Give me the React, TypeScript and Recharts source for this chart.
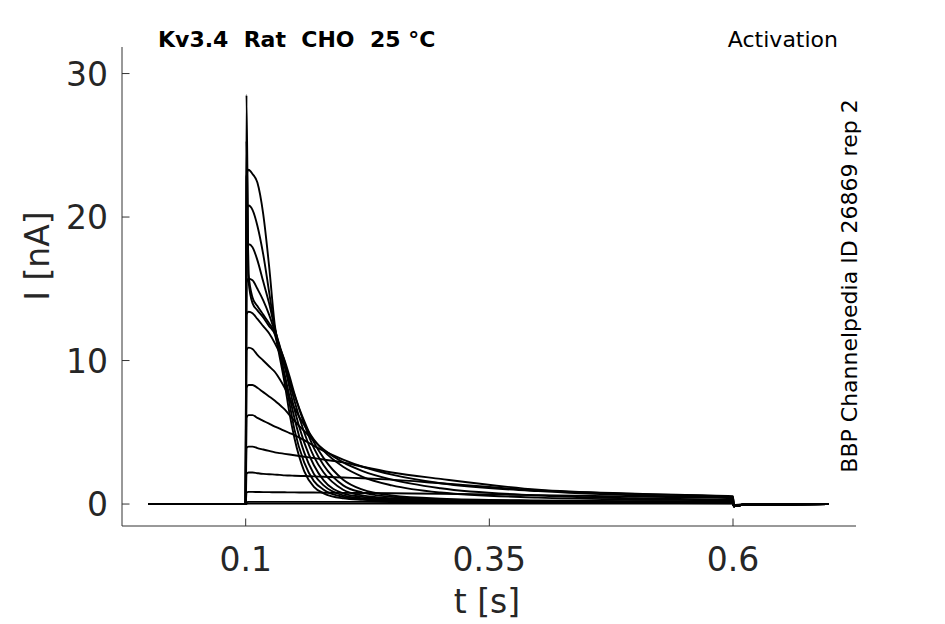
import React from 'react';
import { LineChart, Line, XAxis, YAxis } from 'recharts';

// time grid (s)
const T = [0, 0.1, 0.1008, 0.103, 0.107, 0.112, 0.118, 0.124, 0.13, 0.135, 0.14, 0.145, 0.15, 0.16, 0.17, 0.18, 0.2, 0.22, 0.25, 0.3, 0.4, 0.5, 0.6, 0.6008, 0.61, 0.698];

// current traces (nA), one per activation step
const s1 = [0, 0, 28.5, 15.5, 14.0, 13.5, 13.0, 12.4, 11.8, 10.2, 8.4, 6.3, 4.6, 2.3, 1.2, 0.75, 0.4, 0.3, 0.22, 0.15, 0.1, 0.08, 0.06, -0.15, -0.05, 0];
const s2 = [0, 0, 25.3, 16.0, 14.4, 13.8, 13.2, 12.6, 11.9, 10.5, 8.9, 7.0, 5.2, 2.9, 1.6, 1.0, 0.5, 0.35, 0.25, 0.17, 0.12, 0.1, 0.08, -0.15, -0.05, 0];
const s3 = [0, 0, 22.8, 23.3, 23.0, 22.4, 20.2, 16.6, 12.4, 10.6, 9.0, 7.5, 6.0, 3.6, 2.1, 1.3, 0.6, 0.4, 0.3, 0.2, 0.14, 0.12, 0.1, -0.15, -0.05, 0];
const s4 = [0, 0, 20.4, 20.8, 20.5, 19.4, 17.4, 14.8, 12.2, 10.9, 9.6, 8.1, 6.6, 4.3, 2.7, 1.65, 0.75, 0.5, 0.35, 0.25, 0.17, 0.14, 0.12, -0.15, -0.05, 0];
const s5 = [0, 0, 17.8, 18.1, 17.9, 17.0, 15.5, 14.0, 12.2, 11.0, 9.9, 8.5, 7.2, 5.0, 3.3, 2.2, 1.0, 0.6, 0.4, 0.28, 0.2, 0.16, 0.14, -0.15, -0.05, 0];
const s6 = [0, 0, 15.4, 15.7, 15.6, 15.0, 14.2, 13.2, 12.0, 10.9, 10.0, 8.9, 7.7, 5.6, 3.9, 2.7, 1.3, 0.8, 0.5, 0.32, 0.22, 0.18, 0.16, -0.15, -0.05, 0];
const s7 = [0, 0, 13.2, 13.4, 13.3, 12.9, 12.4, 11.9, 11.2, 10.5, 9.6, 8.6, 7.6, 5.8, 4.3, 3.2, 1.7, 1.0, 0.6, 0.38, 0.25, 0.2, 0.18, -0.15, -0.05, 0];
const s8 = [0, 0, 10.7, 10.9, 10.8, 10.4, 10.0, 9.6, 9.2, 8.7, 8.1, 7.4, 6.7, 5.5, 4.5, 3.7, 2.6, 1.9, 1.3, 0.8, 0.45, 0.32, 0.25, -0.15, -0.05, 0];
const s9 = [0, 0, 8.1, 8.3, 8.3, 8.1, 7.8, 7.5, 7.2, 6.9, 6.6, 6.2, 5.8, 5.1, 4.4, 3.8, 2.9, 2.3, 1.7, 1.1, 0.6, 0.4, 0.3, -0.15, -0.05, 0];
const s10 = [0, 0, 6.0, 6.2, 6.2, 6.0, 5.8, 5.6, 5.4, 5.25, 5.1, 4.95, 4.8, 4.45, 4.05, 3.7, 3.1, 2.6, 2.05, 1.45, 0.9, 0.6, 0.45, -0.15, -0.05, 0];
const s11 = [0, 0, 3.9, 4.0, 4.0, 3.9, 3.8, 3.7, 3.6, 3.55, 3.5, 3.45, 3.4, 3.3, 3.2, 3.1, 2.9, 2.6, 2.2, 1.75, 1.0, 0.72, 0.55, -0.15, -0.05, 0];
const s12 = [0, 0, 2.1, 2.2, 2.2, 2.15, 2.1, 2.08, 2.05, 2.03, 2.0, 1.99, 1.97, 1.95, 1.93, 1.9, 1.85, 1.8, 1.7, 1.45, 0.95, 0.7, 0.5, -0.15, -0.05, 0];
const s13 = [0, 0, 0.8, 0.85, 0.85, 0.84, 0.83, 0.83, 0.82, 0.82, 0.82, 0.81, 0.81, 0.8, 0.8, 0.79, 0.78, 0.77, 0.75, 0.72, 0.62, 0.52, 0.42, -0.15, -0.05, 0];
const s14 = [0, 0, 0.13, 0.15, 0.15, 0.15, 0.15, 0.15, 0.15, 0.15, 0.15, 0.15, 0.15, 0.15, 0.15, 0.15, 0.15, 0.15, 0.14, 0.14, 0.13, 0.12, 0.12, -0.1, -0.03, 0];
const s15 = [0, 0, 0.02, 0.03, 0.03, 0.03, 0.03, 0.03, 0.03, 0.03, 0.03, 0.03, 0.03, 0.03, 0.03, 0.03, 0.03, 0.03, 0.03, 0.03, 0.03, 0.03, 0.03, -0.08, -0.02, 0];

const SERIES = [s1, s2, s3, s4, s5, s6, s7, s8, s9, s10, s11, s12, s13, s14, s15];

const X_TICKS = [0.1, 0.35, 0.6];
const Y_TICKS = [0, 10, 20, 30];
const X_DOMAIN = [-0.0269, 0.7262];
const Y_DOMAIN = [-1.53, 31.85];

const TITLE = 'Kv3.4  Rat  CHO  25 °C';
const PROTOCOL = 'Activation';
const SOURCE = 'BBP Channelpedia ID 26869 rep 2';
const X_LABEL = 't [s]';
const Y_LABEL = 'I [nA]';

const rows = T.map((t, i) => {
  const r: Record<string, number> = { t };
  SERIES.forEach((s, k) => {
    r['s' + k] = s[i];
  });
  return r;
});

const FONT = "'DejaVu Sans', sans-serif";
const TICK_COLOR = '#262626';
const AXIS_COLOR = '#333333';

const XTick = (props: any) => {
  const { x, y, payload } = props;
  return (
    <g>
      <line x1={x} x2={x} y1={y} y2={y - 7.5} stroke={AXIS_COLOR} strokeWidth={1} />
      <text x={x} y={y + 45} textAnchor="middle" fontSize={33} fontFamily={FONT} fill={TICK_COLOR}>
        {String(payload.value)}
      </text>
    </g>
  );
};

const YTick = (props: any) => {
  const { x, y, payload } = props;
  return (
    <g>
      <line x1={x} x2={x + 7.5} y1={y} y2={y} stroke={AXIS_COLOR} strokeWidth={1} />
      <text x={x - 14} y={y + 12} textAnchor="end" fontSize={33} fontFamily={FONT} fill={TICK_COLOR}>
        {String(payload.value)}
      </text>
    </g>
  );
};

export default function App() {
  return (
    <div style={{ position: 'absolute', left: 0, top: 0, width: 945, height: 624, background: '#fff' }}>
      <LineChart width={945} height={624} data={rows} margin={{ top: 47, right: 89, left: 0, bottom: 0 }}>
        <XAxis
          dataKey="t"
          type="number"
          domain={X_DOMAIN}
          ticks={X_TICKS}
          allowDataOverflow
          height={98}
          tickSize={0}
          tickMargin={0}
          tickLine={false}
          tick={<XTick />}
          axisLine={{ stroke: AXIS_COLOR, strokeWidth: 1 }}
          interval={0}
        />
        <YAxis
          type="number"
          domain={Y_DOMAIN}
          ticks={Y_TICKS}
          allowDataOverflow
          width={122}
          tickSize={0}
          tickMargin={0}
          tickLine={false}
          tick={<YTick />}
          axisLine={{ stroke: AXIS_COLOR, strokeWidth: 1 }}
          interval={0}
        />
        {SERIES.map((_, k) => (
          <Line
            key={k}
            dataKey={'s' + k}
            type="monotone"
            stroke="#000"
            strokeWidth={1.9}
            dot={false}
            activeDot={false}
            isAnimationActive={false}
          />
        ))}
      </LineChart>
      <svg width={945} height={624} style={{ position: 'absolute', left: 0, top: 0, pointerEvents: 'none' }}>
        <text x={158} y={47} fontSize={22} fontWeight="bold" fontFamily={FONT} fill="#000" style={{ whiteSpace: 'pre' }}>
          {TITLE}
        </text>
        <text x={838} y={47} textAnchor="end" fontSize={22} fontFamily={FONT} fill="#000">
          {PROTOCOL}
        </text>
        <text
          x={857}
          y={286}
          textAnchor="middle"
          fontSize={22}
          fontFamily={FONT}
          fill="#000"
          transform="rotate(-90 857 286)"
        >
          {SOURCE}
        </text>
        <text x={487} y={613} textAnchor="middle" fontSize={33} fontFamily={FONT} fill={TICK_COLOR}>
          {X_LABEL}
        </text>
        <text
          x={49}
          y={256}
          textAnchor="middle"
          fontSize={33}
          fontFamily={FONT}
          fill={TICK_COLOR}
          transform="rotate(-90 49 256)"
        >
          {Y_LABEL}
        </text>
      </svg>
    </div>
  );
}
